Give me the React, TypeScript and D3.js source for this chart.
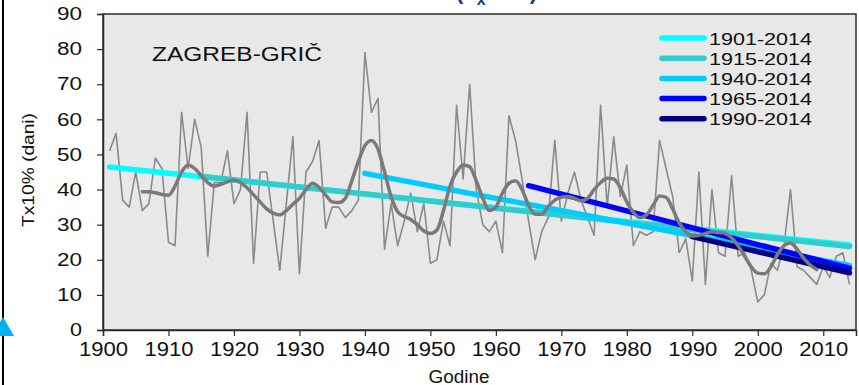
import { useEffect, useRef } from 'react';
import * as d3 from 'd3';

// annual Tx10% days, Zagreb-Grič, 1901-2014
const startYear = 1901;
const annual = [
  51, 56, 37, 35, 45, 34, 36, 49, 46, 25,
  24, 62, 46, 60, 52, 21, 42, 42, 51, 36,
  40, 62, 19, 45, 45, 31, 17, 36, 55, 16,
  45, 48, 54, 29, 35, 35, 32, 34, 37, 79,
  62, 66, 23, 36, 24, 31, 39, 28, 36, 19,
  20, 31, 24, 64, 43, 70, 40, 30, 28, 31,
  22, 61, 54, 43, 31, 20, 28, 32, 54, 31,
  39, 45, 37, 32, 27, 64, 35, 55, 38, 47,
  24, 28, 27, 28, 54, 46, 38, 22, 26, 14,
  45, 13, 40, 22, 21, 44, 21, 22, 17, 8,
  10, 19, 17, 24, 40, 18, 17, 15, 13, 18,
  15, 21, 22, 13,
];

// smoothed curve, 1906-2009
const smoothStart = 1906;
const smoothed = [
  39.4, 39.4, 39.1, 38.6, 38.4, 41, 45, 47, 46, 44,
  42, 41, 41.5, 42.2, 42.7, 42, 40.5, 38.5, 36.5, 34.5,
  33.3, 32.8, 34, 35.8, 37.5, 40, 41.8, 40.6, 38.5, 36.5,
  36.3, 37.5, 42.5, 48, 52.5, 54, 51.5, 45, 38, 33.7,
  32.3, 31.5, 30, 28.2, 27.5, 28.5, 34, 41, 45, 47,
  46.5, 42.5, 37.5, 34, 35, 39, 41.8, 42.5, 40, 35.5,
  33, 33, 35.2, 37, 37.8, 38, 37.5, 36.8, 37.5, 40,
  42, 43.2, 43, 40.5, 36.5, 33.5, 32, 32.8, 35.5, 38.2,
  37.8, 34.5, 30.5, 28, 26.8, 27, 27.5, 28, 27.8, 27.5,
  26.3, 24, 21, 18, 16.2, 16, 18, 21.5, 24, 24.8,
  23, 20.5, 18.5, 17.2,
];

// linear trends
const trendLabels = ['1901-2014', '1915-2014', '1940-2014', '1965-2014', '1990-2014'];
const trendFrom = [1901, 1915, 1940, 1965, 1990];
const trendTo = [2014, 2014, 2014, 2014, 2014];
const trendStartVal = [46.4, 43.8, 44.6, 41.1, 26.6];
const trendEndVal = [24.2, 23.8, 18.4, 17.6, 16.3];
const trendColors = ['#00FFFF', '#33CCCC', '#00CCFF', '#0000FF', '#000080'];

const yTicks = [0, 10, 20, 30, 40, 50, 60, 70, 80, 90];
const xTicks = [1900, 1910, 1920, 1930, 1940, 1950, 1960, 1970, 1980, 1990, 2000, 2010];

const FONT = '"Liberation Sans", Arial, sans-serif';

export default function App() {
  const ref = useRef<SVGSVGElement>(null);

  useEffect(() => {
    const W = 859, H = 385;
    const m = { left: 103, right: 856, top: 14, bottom: 330 };
    const svg = d3.select(ref.current);
    svg.selectAll('*').remove();

    const x = d3.scaleLinear().domain([1900, 2015]).range([m.left, m.right]);
    const y = d3.scaleLinear().domain([0, 90]).range([m.bottom, m.top]);

    svg.append('rect').attr('width', W).attr('height', H).attr('fill', '#fff');

    // clipped-off heading remnant at the very top (cut in the original too)
    svg.append('text').attr('x', 456).attr('y', -1)
      .attr('font-family', FONT).attr('font-size', 22).attr('font-weight', 700)
      .attr('fill', '#1F3A7A').text('(T')
      .append('tspan').attr('dy', 6).attr('font-size', 16).text('x')
      .append('tspan').attr('dy', -6).attr('font-size', 22).text('10%)');

    // left slide edge and blue marker
    svg.append('line').attr('x1', 3).attr('x2', 3).attr('y1', 0).attr('y2', H)
      .attr('stroke', '#000').attr('stroke-width', 2);
    svg.append('path').attr('d', 'M-8,336 L3,317 L14,336 Z').attr('fill', '#00B0F0');

    // plot background
    svg.append('rect')
      .attr('x', m.left).attr('y', m.top)
      .attr('width', m.right - m.left).attr('height', m.bottom - m.top)
      .attr('fill', '#E8E8E8').attr('stroke', '#2b2b2b').attr('stroke-width', 1.5);

    // axes
    const gy = svg.append('g').attr('transform', `translate(${m.left},0)`)
      .call(d3.axisLeft(y).tickValues(yTicks).tickSize(6).tickPadding(15).tickFormat(d3.format('d')));
    gy.select('.domain').attr('stroke', '#2b2b2b').attr('stroke-width', 1.5);
    gy.selectAll('.tick line').attr('stroke', '#2b2b2b').attr('stroke-width', 1.2);
    gy.selectAll('.tick text')
      .attr('font-family', FONT).attr('font-size', 18).attr('fill', '#111')
      .attr('textLength', (d: any) => (String(d).length === 1 ? 12 : 25))
      .attr('lengthAdjust', 'spacingAndGlyphs');

    const gx = svg.append('g').attr('transform', `translate(0,${m.bottom})`)
      .call(d3.axisBottom(x).tickValues(xTicks).tickSize(6).tickPadding(6).tickFormat(d3.format('d')));
    gx.select('.domain').attr('stroke', '#2b2b2b').attr('stroke-width', 1.5);
    gx.selectAll('.tick line').attr('stroke', '#2b2b2b').attr('stroke-width', 1.2);
    gx.selectAll('.tick text')
      .attr('font-family', FONT).attr('font-size', 20).attr('fill', '#111')
      .attr('textLength', 49).attr('lengthAdjust', 'spacingAndGlyphs');

    // axis titles
    svg.append('text').attr('x', 459).attr('y', 383).attr('text-anchor', 'middle')
      .attr('font-family', FONT).attr('font-size', 18).attr('fill', '#111')
      .attr('textLength', 61).attr('lengthAdjust', 'spacingAndGlyphs').text('Godine');
    svg.append('text')
      .attr('transform', 'translate(34,170) rotate(-90)')
      .attr('text-anchor', 'middle')
      .attr('font-family', FONT).attr('font-size', 17).attr('fill', '#111')
      .attr('textLength', 114).attr('lengthAdjust', 'spacingAndGlyphs')
      .text('Tx10% (dani)');

    // station name
    svg.append('text').attr('x', 152).attr('y', 61)
      .attr('font-family', FONT).attr('font-size', 20).attr('fill', '#111')
      .attr('textLength', 170).attr('lengthAdjust', 'spacingAndGlyphs')
      .text('ZAGREB-GRIČ');

    // annual series
    const annualPts = annual.map((v, i) => [startYear + i, v] as [number, number]);
    const line = d3.line<[number, number]>().x(d => x(d[0])).y(d => y(d[1]));
    svg.append('path').attr('d', line(annualPts))
      .attr('fill', 'none').attr('stroke', '#8A8A8A').attr('stroke-width', 1.6)
      .attr('stroke-linejoin', 'round');

    // trends
    trendLabels.forEach((_, i) => {
      svg.append('line')
        .attr('x1', x(trendFrom[i])).attr('y1', y(trendStartVal[i]))
        .attr('x2', x(trendTo[i])).attr('y2', y(trendEndVal[i]))
        .attr('stroke', trendColors[i]).attr('stroke-width', 5.5)
        .attr('stroke-linecap', 'round');
    });

    // smoothed curve
    const smoothPts = smoothed.map((v, i) => [smoothStart + i, v] as [number, number]);
    svg.append('path')
      .attr('d', d3.line<[number, number]>().x(d => x(d[0])).y(d => y(d[1])).curve(d3.curveMonotoneX)(smoothPts))
      .attr('fill', 'none').attr('stroke', '#7A7A7A').attr('stroke-width', 3.5)
      .attr('stroke-linejoin', 'round').attr('stroke-linecap', 'round');

    // legend
    const lg = svg.append('g');
    trendLabels.forEach((lab, i) => {
      const ly = 38 + i * 20.2;
      lg.append('line').attr('x1', 662).attr('x2', 704).attr('y1', ly).attr('y2', ly)
        .attr('stroke', trendColors[i]).attr('stroke-width', 5.5).attr('stroke-linecap', 'round');
      lg.append('text').attr('x', 709).attr('y', ly + 6.5)
        .attr('font-family', FONT).attr('font-size', 17).attr('fill', '#111')
        .attr('textLength', 103).attr('lengthAdjust', 'spacingAndGlyphs')
        .text(lab);
    });
  }, []);

  return (
    <svg ref={ref} width={859} height={385}
      style={{ position: 'fixed', left: 0, top: 0, display: 'block' }} />
  );
}
